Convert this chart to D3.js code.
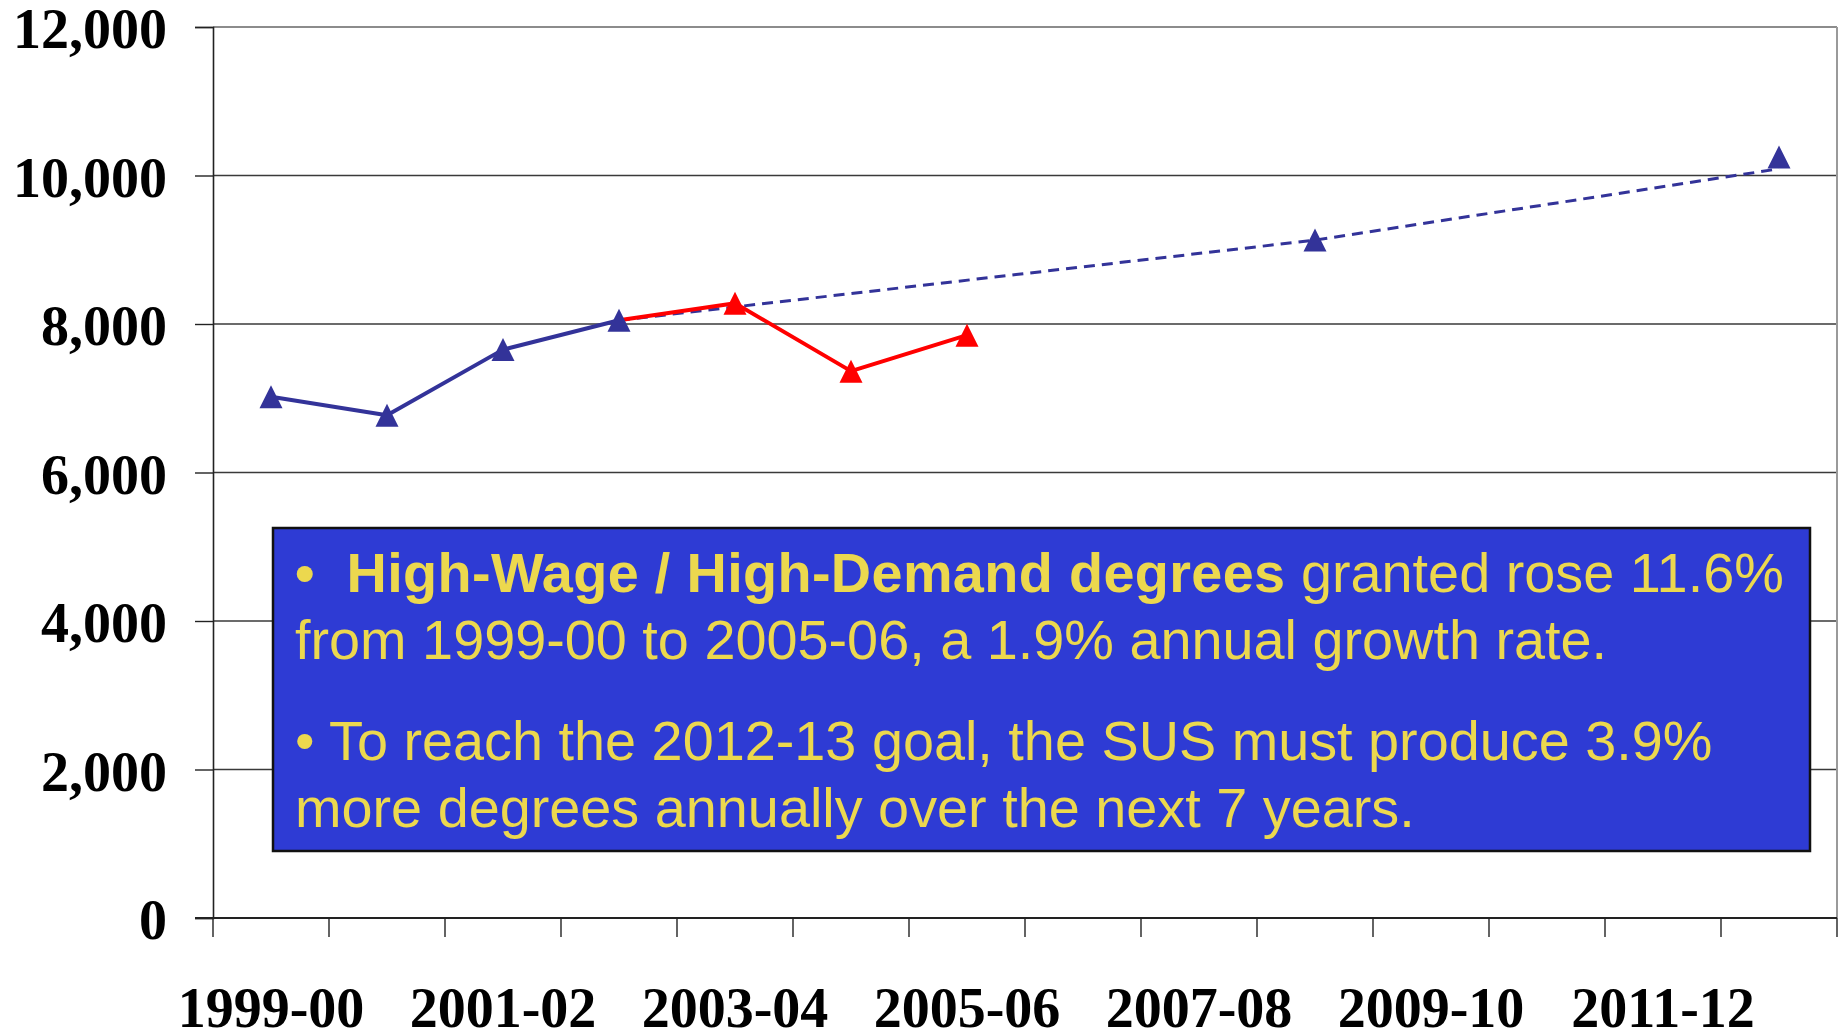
<!DOCTYPE html>
<html>
<head>
<meta charset="utf-8">
<script src="https://cdn.jsdelivr.net/npm/d3@7"></script>
<style>
  html, body { margin: 0; padding: 0; background: #fff; }
  svg { display: block; }
</style>
</head>
<body>
<svg id="chart" width="1843" height="1034"></svg>
<script>
// ---- data ----
const categories = ["1999-00","2000-01","2001-02","2002-03","2003-04","2004-05","2005-06",
                    "2006-07","2007-08","2008-09","2009-10","2010-11","2011-12","2012-13"];
const tickLabels = ["1999-00","2001-02","2003-04","2005-06","2007-08","2009-10","2011-12"];
const yTicks = [0, 2000, 4000, 6000, 8000, 10000, 12000];

const actualCats = ["1999-00","2000-01","2001-02","2002-03"];
const actualValues = [7020, 6770, 7655, 8050];

const recentCats = ["2002-03","2003-04","2004-05","2005-06"];
const recentValues = [8050, 8280, 7365, 7850];

const projectedCats = ["2002-03","2008-09","2012-13"];
const projectedValues = [8050, 9130, 10090];

const goalCats = ["2008-09","2012-13"];
const goalValues = [9130, 10250];

const noteLines = [
  [{t:"•  High-Wage / High-Demand degrees", b:true}, {t:" granted rose 11.6%", b:false}],
  [{t:"from 1999-00 to 2005-06, a 1.9% annual growth rate.", b:false}],
  [{t:"• To reach the 2012-13 goal, the SUS must produce 3.9%", b:false}],
  [{t:"more degrees annually over the next 7 years.", b:false}]
];

// ---- layout ----
const svg = d3.select("#chart");
const plotL = 213, plotR = 1837, plotT = 27, plotB = 918;

const x = d3.scaleBand().domain(categories).range([plotL, plotR]).padding(0);
const cx = c => x(c) + x.bandwidth() / 2;
const y = d3.scaleLinear().domain([0, 12000]).range([plotB, plotT]);

const serif = "'Liberation Serif','Times New Roman',serif";
const sans = "'Liberation Sans',Arial,sans-serif";

// gridlines
svg.append("g").selectAll("line").data(yTicks.filter(v => v > 0)).join("line")
  .attr("x1", plotL).attr("x2", plotR)
  .attr("y1", d => y(d)).attr("y2", d => y(d))
  .attr("stroke", d => d === 12000 ? "#8c8c8c" : "#3a3a3a")
  .attr("stroke-width", d => d === 12000 ? 2 : 1.4);

// right border
svg.append("line").attr("x1", plotR).attr("x2", plotR).attr("y1", plotT).attr("y2", plotB)
  .attr("stroke", "#9a9a9a").attr("stroke-width", 2);

// y axis
const yAxis = svg.append("g").attr("transform", `translate(${plotL},0)`)
  .call(d3.axisLeft(y).tickValues(yTicks).tickFormat(d3.format(",")).tickSize(18).tickPadding(28));
yAxis.select(".domain").attr("stroke", "#222").attr("stroke-width", 1.6);
yAxis.selectAll(".tick line").attr("stroke", "#222").attr("stroke-width", 1.4);
yAxis.selectAll(".tick text")
  .attr("font-family", serif).attr("font-weight", "bold").attr("font-size", 56)
  .attr("fill", "#000").attr("dy", "0.37em");

// x axis line
svg.append("line").attr("x1", plotL - 18).attr("x2", plotR).attr("y1", plotB).attr("y2", plotB)
  .attr("stroke", "#222").attr("stroke-width", 2);

// x ticks at category boundaries
const boundaries = categories.map(c => x(c)).concat([x.range()[1]]);
svg.append("g").selectAll("line").data(boundaries).join("line")
  .attr("x1", d => d).attr("x2", d => d)
  .attr("y1", plotB).attr("y2", plotB + 19)
  .attr("stroke", "#222").attr("stroke-width", 1.4);

// x labels
svg.append("g").selectAll("text").data(tickLabels).join("text")
  .attr("x", d => cx(d)).attr("y", 1027)
  .attr("text-anchor", "middle")
  .attr("font-family", serif).attr("font-weight", "bold").attr("font-size", 56)
  .attr("fill", "#000").text(d => d);

// lines
const blue = "#333399", red = "#ff0000";
const line = d3.line().x(d => cx(d[0])).y(d => y(d[1]));

svg.append("path")
  .attr("d", line(projectedCats.map((c, i) => [c, projectedValues[i]])))
  .attr("fill", "none").attr("stroke", blue).attr("stroke-width", 3)
  .attr("stroke-dasharray", "11,7");

svg.append("path")
  .attr("d", line(actualCats.map((c, i) => [c, actualValues[i]])))
  .attr("fill", "none").attr("stroke", blue).attr("stroke-width", 4)
  .attr("stroke-linejoin", "round");

svg.append("path")
  .attr("d", line(recentCats.map((c, i) => [c, recentValues[i]])))
  .attr("fill", "none").attr("stroke", red).attr("stroke-width", 4)
  .attr("stroke-linejoin", "round");

// markers
const tri = "M0,-11.5L11.5,11.5L-11.5,11.5Z";
function markers(cats, vals, color) {
  svg.append("g").selectAll("path").data(cats.map((c, i) => [c, vals[i]])).join("path")
    .attr("d", tri)
    .attr("transform", d => `translate(${cx(d[0])},${y(d[1])})`)
    .attr("fill", color);
}
markers(recentCats.slice(1), recentValues.slice(1), red);
markers(actualCats, actualValues, blue);
markers(goalCats, goalValues, blue);

// note box
svg.append("rect")
  .attr("x", 273).attr("y", 528).attr("width", 1537).attr("height", 323)
  .attr("fill", "#2e3bd4").attr("stroke", "#111").attr("stroke-width", 2.5);

const baselines = [592, 658.5, 760, 826.5];
const note = svg.append("g").attr("font-family", sans).attr("font-size", 55.8).attr("fill", "#ecd84e");
noteLines.forEach((parts, i) => {
  const t = note.append("text").attr("x", 295).attr("y", baselines[i]).style("white-space", "pre");
  parts.forEach(p => t.append("tspan")
    .attr("font-weight", p.b ? "bold" : "normal")
    .attr("letter-spacing", p.b ? 0.35 : 0)
    .text(p.t));
});
</script>
</body>
</html>
